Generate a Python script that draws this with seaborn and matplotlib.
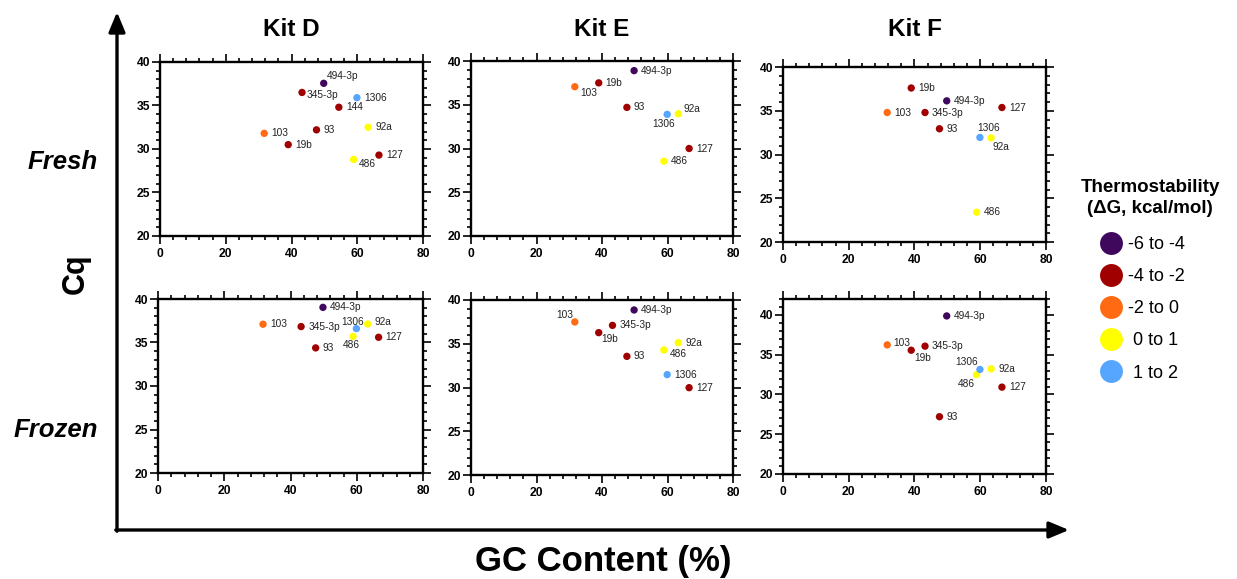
import numpy as np
import pandas as pd
import seaborn as sns
import matplotlib.pyplot as plt
from matplotlib.lines import Line2D
from matplotlib.ticker import MultipleLocator

nan = np.nan

# miRNA targets with their GC content (%) and thermostability class
mirnas = ['103', '19b', '345-3p', '93', '494-3p', '144', '486', '1306', '92a', '127']
gc_content = [31.7, 39.0, 43.2, 47.6, 49.8, 54.4, 58.9, 59.9, 63.3, 66.6]
dg_class = ['-2 to 0', '-4 to -2', '-4 to -2', '-4 to -2', '-6 to -4',
            '-4 to -2', '0 to 1', '1 to 2', '0 to 1', '-4 to -2']

kits = ['Kit D', 'Kit E', 'Kit F']
conditions = ['Fresh', 'Frozen']

# Cq values, same order as mirnas (nan = not shown)
cq_d_fresh = [31.8, 30.5, 36.5, 32.2, 37.55, 34.8, 28.8, 35.9, 32.5, 29.3]
cq_e_fresh = [37.06, 37.5, nan, 34.7, 38.9, nan, 28.55, 33.9, 33.97, 30.0]
cq_f_fresh = [34.8, 37.6, 34.8, 32.94, 36.13, nan, 23.4, 31.95, 31.9, 35.37]
cq_d_frozen = [37.1, nan, 36.83, 34.38, 39.04, nan, 35.7, 36.6, 37.13, 35.6]
cq_e_frozen = [37.49, 36.27, 37.1, 33.56, 38.86, nan, 34.29, 31.47, 35.12, 29.98]
cq_f_frozen = [36.23, 35.56, 36.07, 27.2, 39.87, nan, 32.5, 33.14, 33.22, 30.92]

dg_levels = ['-6 to -4', '-4 to -2', '-2 to 0', '0 to 1', '1 to 2']
dg_labels = ['-6 to -4', '-4 to -2', '-2 to 0', ' 0 to 1', ' 1 to 2']
dg_colors = ['#40085c', '#a00000', '#ff6a13', '#ffff00', '#56a6ff']

cq_table = {
    ('Kit D', 'Fresh'): cq_d_fresh, ('Kit E', 'Fresh'): cq_e_fresh, ('Kit F', 'Fresh'): cq_f_fresh,
    ('Kit D', 'Frozen'): cq_d_frozen, ('Kit E', 'Frozen'): cq_e_frozen, ('Kit F', 'Frozen'): cq_f_frozen,
}

rows = []
for (kit, cond), cqs in cq_table.items():
    for m, gc, dg, cq in zip(mirnas, gc_content, dg_class, cqs):
        rows.append({'kit': kit, 'condition': cond, 'mirna': m, 'gc': gc, 'dg': dg, 'cq': cq})
df = pd.DataFrame(rows).dropna()

# label placement tweaks: (dx px, dy px up, ha); default is right of the dot
label_offsets = {
    ('Kit D', 'Fresh', '494-3p'): (3, 7, 'left'),
    ('Kit D', 'Fresh', '345-3p'): (5, -3, 'left'),
    ('Kit D', 'Fresh', '486'): (5, -5, 'left'),
    ('Kit E', 'Fresh', '103'): (5, -6, 'left'),
    ('Kit E', 'Fresh', '1306'): (-4, -10, 'center'),
    ('Kit E', 'Fresh', '92a'): (5, 5, 'left'),
    ('Kit F', 'Fresh', '1306'): (9, 9, 'center'),
    ('Kit F', 'Fresh', '92a'): (1, -9, 'left'),
    ('Kit D', 'Frozen', '1306'): (-4, 7, 'center'),
    ('Kit D', 'Frozen', '92a'): (7, 2, 'left'),
    ('Kit D', 'Frozen', '486'): (-2, -9, 'center'),
    ('Kit E', 'Frozen', '103'): (-2, 7, 'right'),
    ('Kit E', 'Frozen', '19b'): (3, -6, 'left'),
    ('Kit E', 'Frozen', '486'): (6, -4, 'left'),
    ('Kit F', 'Frozen', '103'): (6, 2, 'left'),
    ('Kit F', 'Frozen', '19b'): (3, -8, 'left'),
    ('Kit F', 'Frozen', '1306'): (-2, 7, 'right'),
    ('Kit F', 'Frozen', '486'): (-2, -9, 'right'),
}

# panel boxes in pixels (left, top, right, bottom)
W, H = 1237, 579
panel_px = {
    ('Kit D', 'Fresh'): (160, 62, 423, 236),
    ('Kit E', 'Fresh'): (471, 61, 733, 236),
    ('Kit F', 'Fresh'): (783, 67, 1046, 242),
    ('Kit D', 'Frozen'): (158, 299, 423, 473),
    ('Kit E', 'Frozen'): (471, 300, 733, 475),
    ('Kit F', 'Frozen'): (783, 299, 1046, 474),
}

sns.set_theme(style='ticks')
plt.rcParams['font.family'] = ['Liberation Sans', 'DejaVu Sans']
plt.rcParams['text.color'] = 'black'
plt.rcParams['xtick.color'] = 'black'
plt.rcParams['ytick.color'] = 'black'

fig = plt.figure(figsize=(W / 100, H / 100), dpi=100)
palette = dict(zip(dg_levels, dg_colors))

for (kit, cond), (l, t, r, b) in panel_px.items():
    ax = fig.add_axes([l / W, 1 - b / H, (r - l) / W, (b - t) / H])
    sub = df[(df['kit'] == kit) & (df['condition'] == cond)]
    sns.scatterplot(data=sub, x='gc', y='cq', hue='dg', palette=palette,
                    s=28, edgecolor='none', legend=False, ax=ax, zorder=3)
    for _, p in sub.iterrows():
        dx, dy, ha = label_offsets.get((kit, cond, p['mirna']), (7, 0, 'left'))
        ax.annotate(p['mirna'], (p['gc'], p['cq']), xytext=(dx, dy), textcoords='offset pixels',
                    ha=ha, va='center', fontsize=7.3, color='#222222')
    ax.set_xlim(0, 80)
    ax.set_ylim(20, 42 if (kit, cond) == ('Kit F', 'Frozen') else 40)
    ax.xaxis.set_major_locator(MultipleLocator(20))
    ax.xaxis.set_minor_locator(MultipleLocator(4))
    ax.yaxis.set_major_locator(MultipleLocator(5))
    ax.yaxis.set_minor_locator(MultipleLocator(1))
    ax.set_xlabel('')
    ax.set_ylabel('')
    for s in ax.spines.values():
        s.set_linewidth(1.7)
        s.set_color('black')
    ax.tick_params(which='both', direction='out', top=True, right=True, width=1.2)
    ax.tick_params(which='major', length=5.5)
    ax.tick_params(which='minor', length=2.8)
    ax.tick_params(axis='y', pad=1.5)
    ax.tick_params(axis='x', pad=3)
    for lab in ax.get_xticklabels() + ax.get_yticklabels():
        lab.set_fontsize(8.7)
        lab.set_fontweight('bold')

# column titles
for kit, xc in zip(kits, [291.5, 602, 914.5]):
    fig.text(xc / W, 1 - 30 / H, kit, ha='center', va='center', fontsize=17.5, fontweight='bold')

# row labels and axis titles
for cond, yc in zip(conditions, [162, 430]):
    fig.text(98 / W, 1 - yc / H, cond, ha='right', va='center', fontsize=18.5,
             fontweight='bold', fontstyle='italic')
fig.text(76 / W, 1 - 274 / H, 'Cq', ha='center', va='center', fontsize=22,
         fontweight='bold', rotation=90)
fig.text(603 / W, 1 - 561 / H, 'GC Content (%)', ha='center', va='center', fontsize=25,
         fontweight='bold')

# big L-shaped arrows from the corner
arrow_kw = dict(arrowstyle='-|>,head_length=0.6,head_width=0.25', mutation_scale=20,
                lw=2.4, color='black', shrinkA=0, shrinkB=0)
plt.annotate('', xy=(117, H - 12), xytext=(117, H - 531.2), xycoords='figure pixels',
             textcoords='figure pixels', arrowprops=arrow_kw)
plt.annotate('', xy=(1069, H - 530), xytext=(115.8, H - 530), xycoords='figure pixels',
             textcoords='figure pixels', arrowprops=arrow_kw)

# legend (trailing spaces nudge the entries left under the title)
handles = [Line2D([0], [0], marker='o', ls='', markersize=16.5, markeredgewidth=0,
                  color=c) for c in dg_colors]
leg = fig.legend(handles, [lab + '   ' for lab in dg_labels],
                 title='Thermostability\n(\u0394G, kcal/mol)',
                 loc='upper center', bbox_to_anchor=(1150 / W, 1 - 166 / H), frameon=False,
                 fontsize=13, handlelength=1.2, handletextpad=0.3, labelspacing=0.84,
                 borderpad=0.2)
leg.get_title().set_fontweight('bold')
leg.get_title().set_fontsize(13.5)
leg.get_title().set_multialignment('center')
leg.get_title().set_linespacing(1.3)
leg._legend_box.sep = leg._legend_box.sep + 3

fig.savefig('out.png', dpi=100)
